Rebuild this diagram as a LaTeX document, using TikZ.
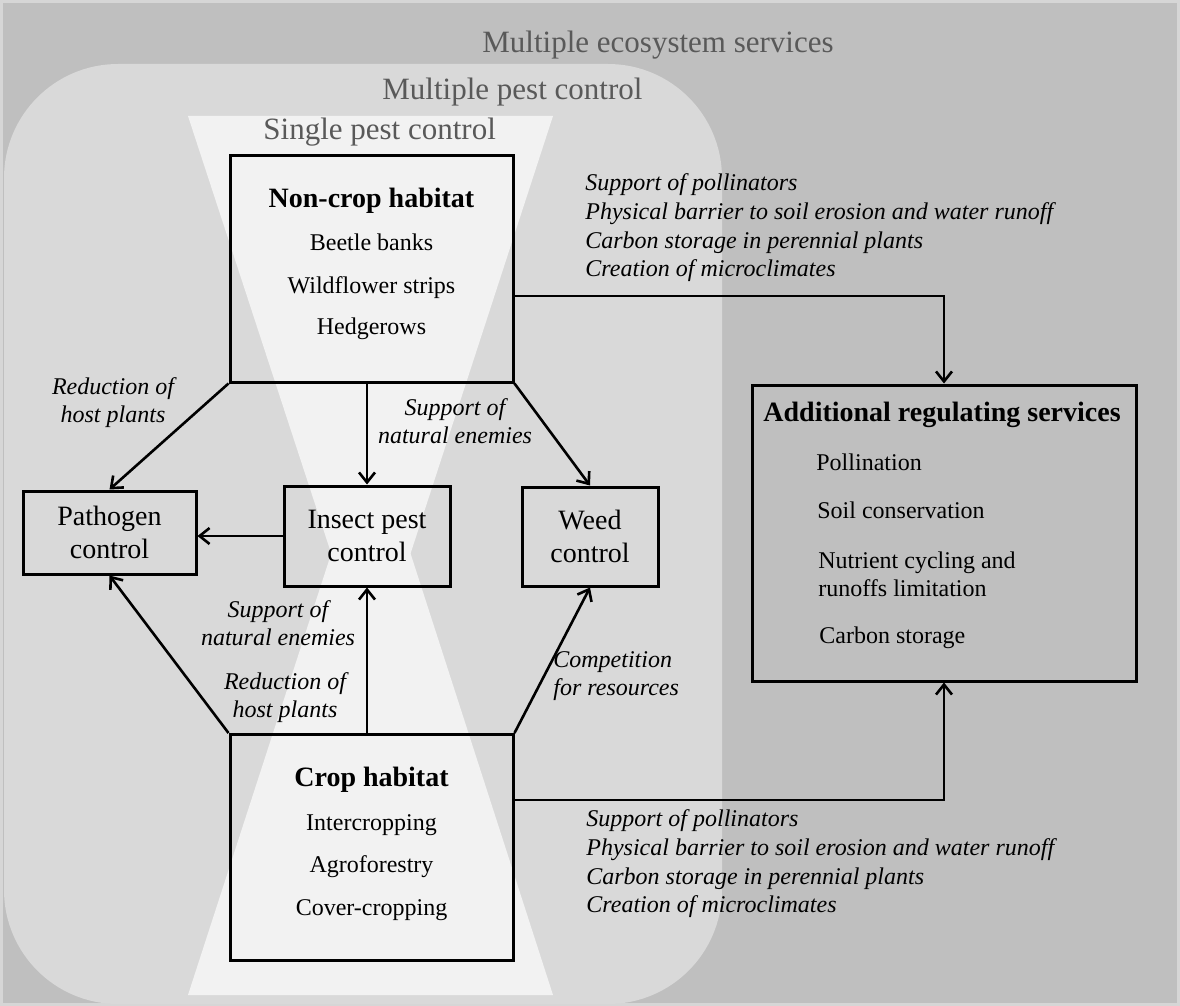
\documentclass[tikz,border=0pt]{standalone}
\usepackage{fontspec}
\setmainfont{Liberation Serif}
\usetikzlibrary{arrows.meta,positioning}
\definecolor{edgegray}{HTML}{D6D6D6}
\definecolor{outergray}{HTML}{BFBFBF}
\definecolor{midgray}{HTML}{D9D9D9}
\definecolor{palegray}{HTML}{F2F2F2}
\definecolor{titlegray}{HTML}{595959}

\begin{document}
\begin{tikzpicture}[x=0.5pt, y=-0.5pt, >={Straight Barb[length=5pt,width=8pt]},
    every node/.style={inner sep=0pt},
    title/.style={font=\fontsize{15.5}{18}\selectfont, text=titlegray, anchor=base west},
    habbox/.style={draw, line width=1.5pt, minimum width=141.5pt, minimum height=113pt},
    ctrlbox/.style={draw, line width=1.5pt, align=center, font=\fontsize{14}{16.5}\selectfont},
    head/.style={font=\bfseries\fontsize{14}{16}\selectfont, anchor=base},
    item/.style={font=\fontsize{12}{14}\selectfont, anchor=base},
    lbl/.style={font=\itshape\fontsize{12}{14}\selectfont, align=center},
    gain/.style={font=\itshape\fontsize{12}{14.35}\selectfont, align=left, anchor=north west},
    link/.style={->, line width=1.3pt}
    ]
\useasboundingbox (0,0) rectangle (1180,1006);
% nested scales
\fill[edgegray] (0,0) rectangle (1180,1006);
\fill[outergray] (3,3) rectangle (1177,1003);
\fill[midgray, rounded corners=57pt] (4,64) rectangle (722,1004);
\fill[palegray] (188,116) -- (553,116) -- (371,675) -- cycle;
\fill[palegray] (188,995) -- (553,995) -- (371,431) -- cycle;
\node[title] (ecotitle)    at (482,53)  {Multiple ecosystem services};
\node[title] (multititle)  at (382,100) {Multiple pest control};
\node[title] (singletitle) at (263,140) {Single pest control};

% habitats
\node[habbox] (noncrop) at (371.5,269) {};
\node[head] (noncrophead) at (371.5,208) {Non-crop habitat};
\node[item] (beetle) at (371.5,250) {Beetle banks};
\node[item] (wildfl) at (371.5,293) {Wildflower strips};
\node[item] (hedge)  at (371.5,335) {Hedgerows};

\node[habbox] (crop) at (371.5,847.5) {};
\node[head] (crophead) at (371.5,786) {Crop habitat};
\node[item] (intercrop) at (371.5,830) {Intercropping};
\node[item] (agrofor)   at (371.5,872) {Agroforestry};
\node[item] (covercrop) at (371.5,915) {Cover-cropping};

% pest control
\node[ctrlbox, minimum width=86.5pt, minimum height=41.5pt] (pathogen) at (109.5,532.5) {Pathogen\\control};
\node[ctrlbox, minimum width=83pt, minimum height=50pt] (insect) at (367,536) {Insect pest\\control};
\node[ctrlbox, minimum width=68pt, minimum height=49.5pt] (weed) at (590,536.5) {Weed\\control};

% regulating services
\node[draw, line width=1.5pt, minimum width=192pt, minimum height=148pt] (addsrv) at (944,533) {};
\node[head, anchor=base west] (addhead) at (763,422) {Additional regulating services};
\node[item, anchor=base west] (pollin) at (816,470) {Pollination};
\node[item, anchor=base west] (soilcons) at (817,518) {Soil conservation};
\node[item, align=left, anchor=north west] (nutrient) at (818,551) {Nutrient cycling and\\runoffs limitation};
\node[item, anchor=base west] (carbon) at (819,643) {Carbon storage};

% links
\draw[link] (noncrop.south west) -- (pathogen.north);
\draw[link] (insect.north |- noncrop.south) -- (insect.north);
\draw[link] (noncrop.south east) -- (weed.north);
\draw[link] (insect.west) -- (insect.west -| pathogen.east);
\draw[link] (crop.north west) -- (pathogen.south);
\draw[link] (insect.south |- crop.north) -- (insect.south);
\draw[link] (crop.north east) -- (weed.south);
\draw[link] ([yshift=-13.5pt]noncrop.east) -| (addsrv.north);
\draw[link] ([yshift=23.75pt]crop.east) -| (addsrv.south);

\node[lbl] (redtop)  at (113,403)   {Reduction of\\host plants};
\node[lbl] (suptop)  at (455,421.5) {Support of\\natural enemies};
\node[lbl] (suplow)  at (278,623)   {Support of\\natural enemies};
\node[lbl] (redlow)  at (285,698)   {Reduction of\\host plants};
\node[lbl, align=left, anchor=west] (compet) at (553,676) {Competition\\for resources};

\node[gain] (gaintop) at (585,173.5) {Support of pollinators\\Physical barrier to soil erosion and water runoff\\Carbon storage in perennial plants\\Creation of microclimates};
\node[gain] (gainlow) at (586,809.5) {Support of pollinators\\Physical barrier to soil erosion and water runoff\\Carbon storage in perennial plants\\Creation of microclimates};
\end{tikzpicture}
\end{document}
